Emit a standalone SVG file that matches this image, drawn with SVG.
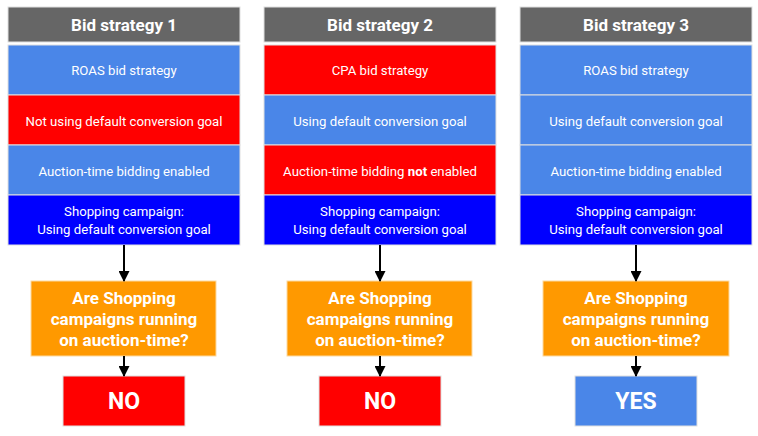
<svg xmlns="http://www.w3.org/2000/svg" width="758" height="436" viewBox="0 0 758 436">
<style>
.hdr{fill:#666666;stroke:#e0e0e0;stroke-width:1}
.lb{fill:#4a86e8;stroke:#e0e0e0;stroke-width:1}
.rd{fill:#ff0000;stroke:#e0e0e0;stroke-width:1}
.db{fill:#0000ff;stroke:#e0e0e0;stroke-width:1}
.or{fill:#ff9900;stroke:#fcd9a0;stroke-width:1}
.ht{font-family:Roboto,"Liberation Sans",sans-serif;font-weight:bold;font-size:17px;fill:#fff;text-anchor:middle}
.rt{font-family:Roboto,"Liberation Sans",sans-serif;font-size:13.2px;fill:#fff;text-anchor:middle}
.qt{font-family:Roboto,"Liberation Sans",sans-serif;font-weight:bold;font-size:17px;fill:#fff;text-anchor:middle}
.at{font-family:Roboto,"Liberation Sans",sans-serif;font-weight:bold;font-size:23px;fill:#fff;text-anchor:middle}
.cn{stroke:#000;stroke-width:2;fill:none;marker-end:url(#ah)}
</style>
<defs>
<marker id="ah" markerWidth="11" markerHeight="11" refX="10" refY="5.5" orient="auto" markerUnits="userSpaceOnUse">
<path d="M0,0 L11,5.5 L0,11 Z" fill="#000"/>
</marker>
</defs>
<g id="col1">
<g id="h1"><rect class="hdr" x="8" y="7" width="232" height="35"/><text class="ht" x="124" y="31">Bid strategy 1</text></g>
<g id="c1r1"><rect class="lb" x="8" y="45" width="232" height="50"/><text class="rt" x="124" y="75">ROAS bid strategy</text></g>
<g id="c1r2"><rect class="rd" x="8" y="95" width="232" height="50"/><text class="rt" x="124" y="126">Not using default conversion goal</text></g>
<g id="c1r3"><rect class="lb" x="8" y="145" width="232" height="50"/><text class="rt" x="124" y="176">Auction-time bidding enabled</text></g>
<g id="c1r4"><rect class="db" x="8" y="195" width="232" height="50"/><text class="rt" x="124" y="216">Shopping campaign:</text><text class="rt" x="124" y="234">Using default conversion goal</text></g>
<g id="q1"><rect class="or" x="31" y="281" width="185" height="75"/><text class="qt" x="124" y="304">Are Shopping</text><text class="qt" x="124" y="325">campaigns running</text><text class="qt" x="124" y="346">on auction-time?</text></g>
<g id="a1"><rect class="rd" x="63" y="376" width="122" height="50"/><text class="at" x="124" y="409">NO</text></g>
</g>
<g id="col2">
<g id="h2"><rect class="hdr" x="264" y="7" width="232" height="35"/><text class="ht" x="380" y="31">Bid strategy 2</text></g>
<g id="c2r1"><rect class="rd" x="264" y="45" width="232" height="50"/><text class="rt" x="380" y="75">CPA bid strategy</text></g>
<g id="c2r2"><rect class="lb" x="264" y="95" width="232" height="50"/><text class="rt" x="380" y="126">Using default conversion goal</text></g>
<g id="c2r3"><rect class="rd" x="264" y="145" width="232" height="50"/><text class="rt" x="380" y="176">Auction-time bidding <tspan font-weight="bold">not</tspan> enabled</text></g>
<g id="c2r4"><rect class="db" x="264" y="195" width="232" height="50"/><text class="rt" x="380" y="216">Shopping campaign:</text><text class="rt" x="380" y="234">Using default conversion goal</text></g>
<g id="q2"><rect class="or" x="287" y="281" width="185" height="75"/><text class="qt" x="380" y="304">Are Shopping</text><text class="qt" x="380" y="325">campaigns running</text><text class="qt" x="380" y="346">on auction-time?</text></g>
<g id="a2"><rect class="rd" x="319" y="376" width="122" height="50"/><text class="at" x="380" y="409">NO</text></g>
</g>
<g id="col3">
<g id="h3"><rect class="hdr" x="520" y="7" width="232" height="35"/><text class="ht" x="636" y="31">Bid strategy 3</text></g>
<g id="c3r1"><rect class="lb" x="520" y="45" width="232" height="50"/><text class="rt" x="636" y="75">ROAS bid strategy</text></g>
<g id="c3r2"><rect class="lb" x="520" y="95" width="232" height="50"/><text class="rt" x="636" y="126">Using default conversion goal</text></g>
<g id="c3r3"><rect class="lb" x="520" y="145" width="232" height="50"/><text class="rt" x="636" y="176">Auction-time bidding enabled</text></g>
<g id="c3r4"><rect class="db" x="520" y="195" width="232" height="50"/><text class="rt" x="636" y="216">Shopping campaign:</text><text class="rt" x="636" y="234">Using default conversion goal</text></g>
<g id="q3"><rect class="or" x="543" y="281" width="186" height="75"/><text class="qt" x="636" y="304">Are Shopping</text><text class="qt" x="636" y="325">campaigns running</text><text class="qt" x="636" y="346">on auction-time?</text></g>
<g id="a3"><rect class="lb" x="575" y="376" width="122" height="50"/><text class="at" x="636" y="409">YES</text></g>
</g>
<g id="connectors">
<line class="cn" x1="124" y1="245" x2="124" y2="281"/>
<line class="cn" x1="124" y1="356" x2="124" y2="376"/>
<line class="cn" x1="380" y1="245" x2="380" y2="281"/>
<line class="cn" x1="380" y1="356" x2="380" y2="376"/>
<line class="cn" x1="636" y1="245" x2="636" y2="281"/>
<line class="cn" x1="636" y1="356" x2="636" y2="376"/>
</g>
</svg>
